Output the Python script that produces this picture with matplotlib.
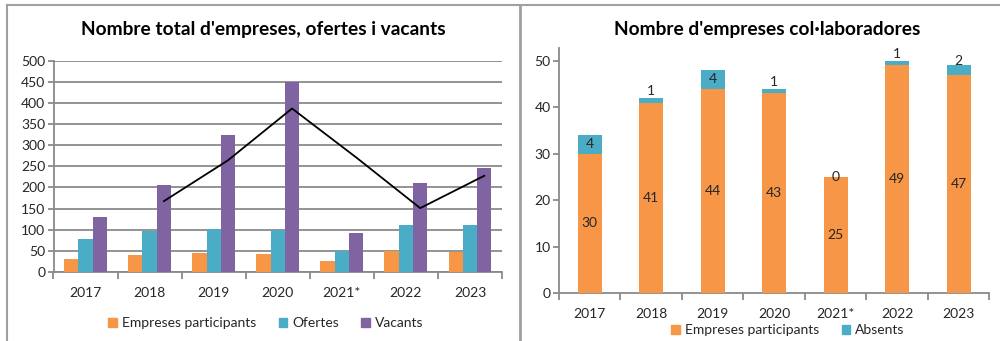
import matplotlib
matplotlib.use("Agg")
import matplotlib.pyplot as plt
from matplotlib.patches import Patch
import numpy as np

plt.rcParams['font.family'] = ['Lato', 'DejaVu Sans']

# ---- data ----
years = ["2017", "2018", "2019", "2020", "2021*", "2022", "2023"]
empreses = [30, 41, 44, 43, 25, 49, 47]
ofertes = [77, 96, 101, 100, 50, 112, 110]
vacants = [130, 205, 323, 450, 92, 210, 245]
absents = [4, 1, 4, 1, 0, 1, 2]

ORANGE = "#F79646"
TEAL = "#4BACC6"
PURPLE = "#8064A2"
GRID = "#8a8a8a"
TXT = "#262626"

W, H = 1000, 341
fig = plt.figure(figsize=(W / 100, H / 100), dpi=100)


def px_axes(x0, y0, x1, y1):
    return fig.add_axes([x0 / W, 1 - y1 / H, (x1 - x0) / W, (y1 - y0) / H])


# panel frame lines
frame = fig.add_axes([0, 0, 1, 1], zorder=-5)
frame.set_xlim(0, W)
frame.set_ylim(H, 0)
frame.axis("off")
frame.plot([6.5, W], [4.5, 4.5], color="#a0a0a0", lw=1.5)
frame.plot([6.5, 6.5], [4.5, H], color="#a0a0a0", lw=1.5)
frame.plot([519.5, 519.5], [4.5, H], color="#a0a0a0", lw=2)

# ---- left chart ----
ax = px_axes(53.5, 60.5, 502, 272)
x = np.arange(len(years))
bw = 0.223
ax.bar(x - bw, empreses, bw, color=ORANGE, zorder=3)
ax.bar(x, ofertes, bw, color=TEAL, zorder=3)
ax.bar(x + bw, vacants, bw, color=PURPLE, zorder=3)

# two-period moving average of vacancies
vac = np.array(vacants, dtype=float)
mov = (vac[1:] + vac[:-1]) / 2
ax.plot(x[1:] + bw, mov, color="black", lw=1.3, zorder=4)

ax.set_xlim(-0.5, len(years) - 0.5)
ax.set_ylim(0, 500)
ax.set_yticks(range(0, 501, 50))
ax.yaxis.grid(True, color=GRID, lw=1.3, zorder=0)
ax.set_xticks(x)
ax.set_xticklabels(years)
ax.set_xticks(np.arange(-0.5, len(years), 1), minor=True)
for s in ["top", "right"]:
    ax.spines[s].set_visible(False)
for s in ["left", "bottom"]:
    ax.spines[s].set_color(GRID)
    ax.spines[s].set_linewidth(1.3)
ax.tick_params(axis="y", length=4, color=GRID, width=1.3, labelsize=10, labelcolor=TXT, pad=2)
ax.tick_params(axis="x", which="major", length=0, labelsize=10, labelcolor=TXT, pad=11)
ax.tick_params(axis="x", which="minor", length=5, color=GRID, width=1.3)
ax.set_axisbelow(True)

fig.text(263 / W, 1 - 30 / H, "Nombre total d'empreses, ofertes i vacants",
         ha="center", va="center", fontsize=13.8, fontweight="bold", color="black")

leg_handles = [Patch(color=ORANGE), Patch(color=TEAL), Patch(color=PURPLE)]
fig.legend(leg_handles, ["Empreses participants", "Ofertes", "Vacants"],
           loc="center", bbox_to_anchor=(266 / W, 1 - 323 / H), ncol=3, frameon=False,
           fontsize=10, handlelength=0.6, handleheight=0.6, handletextpad=0.4,
           columnspacing=1.6, labelcolor=TXT)

# ---- right chart ----
ax2 = px_axes(559, 47.7, 989.3, 293)
bw2 = 0.39
ax2.bar(x, empreses, bw2, color=ORANGE, zorder=3)
ax2.bar(x, absents, bw2, bottom=empreses, color=TEAL, zorder=3)
ymax = 50 * (293 - 47.7) / (293 - 60.7)
ax2.set_xlim(-0.5, len(years) - 0.5)
ax2.set_ylim(0, ymax)
ax2.set_yticks(range(0, 51, 10))
ax2.set_xticks(x)
ax2.set_xticklabels(years)
ax2.set_xticks(np.arange(-0.5, len(years), 1), minor=True)
for s in ["top", "right"]:
    ax2.spines[s].set_visible(False)
for s in ["left", "bottom"]:
    ax2.spines[s].set_color(GRID)
    ax2.spines[s].set_linewidth(1.3)
ax2.tick_params(axis="y", length=4, color=GRID, width=1.3, labelsize=10, labelcolor=TXT, pad=2)
ax2.tick_params(axis="x", which="major", length=0, labelsize=10, labelcolor=TXT, pad=11)
ax2.tick_params(axis="x", which="minor", length=5, color=GRID, width=1.3)

for xi, e, a in zip(x, empreses, absents):
    ax2.text(xi, e / 2, str(e), ha="center", va="center", fontsize=10, color=TXT, zorder=5)
    if a >= 3:
        ax2.annotate(str(a), (xi, e + a / 2), ha="center", va="center",
                     fontsize=10, color=TXT, zorder=5)
    elif a == 0:
        ax2.annotate(str(a), (xi, e), ha="center", va="center",
                     fontsize=10, color=TXT, zorder=5)
    else:
        ax2.annotate(str(a), (xi, e + a), xytext=(0, 7 - 2.5 * (a - 1)),
                     textcoords="offset pixels", ha="center", va="center",
                     fontsize=10, color=TXT, zorder=5)

fig.text(767 / W, 1 - 29 / H, "Nombre d'empreses col·laboradores",
         ha="center", va="center", fontsize=13.8, fontweight="bold", color="black")

fig.legend([Patch(color=ORANGE), Patch(color=TEAL)], ["Empreses participants", "Absents"],
           loc="center", bbox_to_anchor=(788 / W, 1 - 330 / H), ncol=2, frameon=False,
           fontsize=10, handlelength=0.6, handleheight=0.6, handletextpad=0.4,
           columnspacing=1.6, labelcolor=TXT)

fig.savefig("out.png", dpi=100)
